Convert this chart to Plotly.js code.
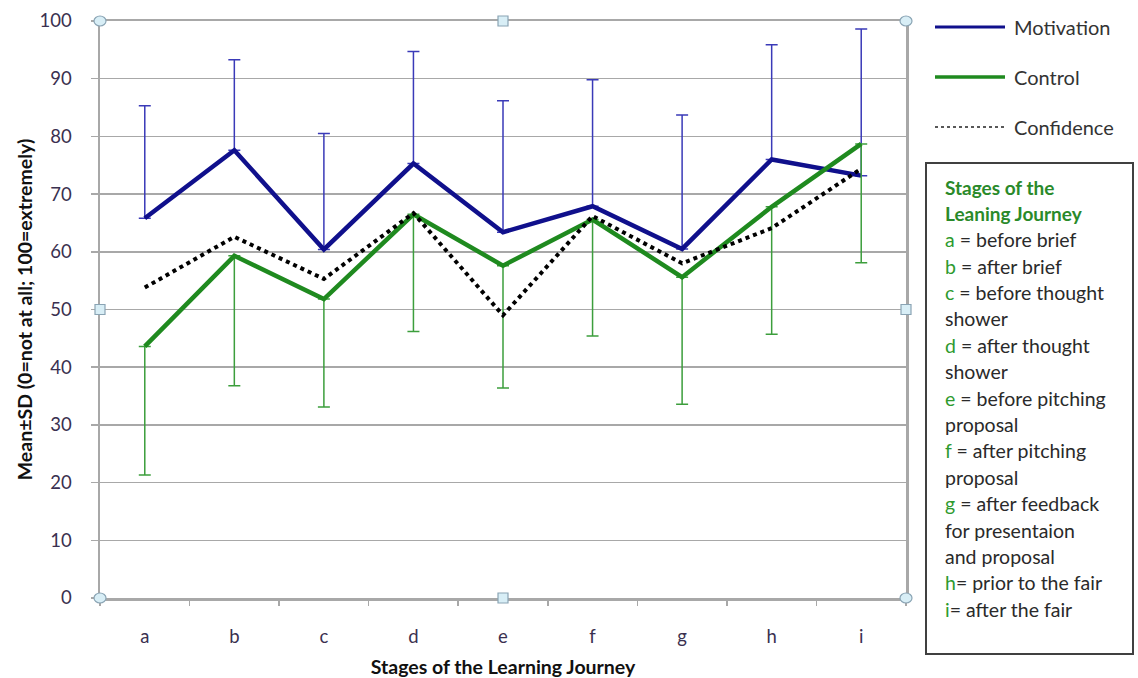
<!DOCTYPE html>
<html>
<head>
<meta charset="utf-8">
<script src="https://cdn.plot.ly/plotly-3.0.1.min.js"></script>
<style>html,body{margin:0;padding:0;background:#fff}#chart{width:1138px;height:678px}</style>
</head>
<body>
<div id="chart"></div>
<script>
// ---- data ----
const stages = ["a","b","c","d","e","f","g","h","i"];
const motivation   = [65.8, 77.6, 60.4, 75.3, 63.4, 67.9, 60.5, 76.0, 73.2];
const motivationSD = [19.5, 15.7, 20.1, 19.4, 22.8, 21.9, 23.2, 19.9, 25.4];
const control      = [43.6, 59.3, 51.8, 66.5, 57.6, 65.6, 55.6, 67.8, 78.7];
const controlSD    = [22.3, 22.5, 18.7, 20.3, 21.2, 20.2, 22.0, 22.1, 20.6];
const confidence   = [53.8, 62.6, 55.3, 66.7, 49.0, 66.2, 58.0, 64.1, 74.4];
const yTicks = [0,10,20,30,40,50,60,70,80,90,100];
const seriesNames = ["Motivation","Control","Confidence"];
const boxTitle = ["Stages of the","Leaning Journey"];
const boxLines = [
  ["a"," = before brief"],
  ["b"," = after brief"],
  ["c"," = before thought"],
  ["","shower"],
  ["d"," = after thought"],
  ["","shower"],
  ["e"," = before pitching"],
  ["","proposal"],
  ["f"," = after pitching"],
  ["","proposal"],
  ["g"," = after feedback"],
  ["","for presentaion"],
  ["","and proposal"],
  ["h","= prior to the fair"],
  ["i","= after the fair"]
];

// ---- layout geometry ----
const W = 1138, H = 678;
const L = 100, R = 906, T = 21, B = 598;
const px = v => (v - L) / (R - L);
const py = v => (B - v) / (B - T);

const navy = "#10108c", green = "#1f8a1f", gridc = "#a8a8a8";
const FONT = "Lato, 'Open Sans', sans-serif";

const traces = [
  {x: stages, y: motivation, name: seriesNames[0], type: "scatter", mode: "lines",
   line: {color: navy, width: 4.5},
   error_y: {type: "data", symmetric: false, array: motivationSD, arrayminus: motivationSD.map(() => 0),
             color: "#3a3ab8", thickness: 1.5, width: 6},
   showlegend: false},
  {x: stages, y: control, name: seriesNames[1], type: "scatter", mode: "lines",
   line: {color: green, width: 4.5},
   error_y: {type: "data", symmetric: false, array: control.map(() => 0), arrayminus: controlSD,
             color: "#3c9e3c", thickness: 1.5, width: 6},
   showlegend: false},
  {x: stages, y: confidence, name: seriesNames[2], type: "scatter", mode: "lines",
   line: {color: "#000", width: 4, dash: "dot"},
   showlegend: false}
];

const shapes = [];
const annotations = [];

// legend (manual)
const legY = [27, 77, 127];
const legStyle = [
  {color: navy, width: 3, dash: "solid"},
  {color: green, width: 3.5, dash: "solid"},
  {color: "#222", width: 1.5, dash: "dot"}
];
seriesNames.forEach((n, i) => {
  shapes.push({type: "line", xref: "paper", yref: "paper",
    x0: px(935), x1: px(1005), y0: py(legY[i]), y1: py(legY[i]), line: legStyle[i]});
  annotations.push({xref: "paper", yref: "paper", x: px(1012), y: py(legY[i]),
    xanchor: "left", yanchor: "middle", showarrow: false, text: n,
    font: {family: FONT, size: 20, color: "#333"}});
});

// text box
shapes.push({type: "rect", xref: "paper", yref: "paper",
  x0: px(926), x1: px(1133), y0: py(163), y1: py(654),
  line: {color: "#404040", width: 2}, fillcolor: "rgba(0,0,0,0)"});
let yy = 187;
const step = 26.4;
boxTitle.forEach(t => {
  annotations.push({xref: "paper", yref: "paper", x: px(943), y: py(yy),
    xanchor: "left", yanchor: "middle", showarrow: false,
    text: "<b>" + t + "</b>", font: {family: FONT, size: 19, color: "#2a8a2a"}});
  yy += step;
});
boxLines.forEach(p => {
  const txt = (p[0] ? '<span style="color:#2e9a2e">' + p[0] + '</span>' : '') + p[1];
  annotations.push({xref: "paper", yref: "paper", x: px(943), y: py(yy),
    xanchor: "left", yanchor: "middle", showarrow: false,
    text: txt, font: {family: FONT, size: 19.5, color: "#2a2a2a"}});
  yy += step;
});

// selection handles around the plot frame
const handles = [
  [L, T, "circle"], [R, T, "circle"], [L, B, "circle"], [R, B, "circle"],
  [(L + R) / 2, T, "rect"], [(L + R) / 2, B, "rect"], [L, (T + B) / 2, "rect"], [R, (T + B) / 2, "rect"]
];
handles.forEach(h => {
  shapes.push({type: h[2], xref: "paper", yref: "paper", xsizemode: "pixel", ysizemode: "pixel",
    xanchor: px(h[0]), yanchor: py(h[1]),
    x0: h[2] === "circle" ? -6 : -5, x1: h[2] === "circle" ? 6 : 5,
    y0: -5, y1: 5,
    line: {color: "#8aa4b4", width: 1.2}, fillcolor: "#d8eef6"});
});

const layout = {
  width: W, height: H,
  margin: {l: L, r: W - R, t: T, b: H - B},
  paper_bgcolor: "#fff", plot_bgcolor: "#fff",
  showlegend: false,
  font: {family: FONT, size: 18, color: "#333"},
  xaxis: {
    type: "category", range: [-0.5, 8.5],
    showline: true, linecolor: gridc, linewidth: 2.5, mirror: true,
    showgrid: false, zeroline: false,
    ticks: "outside", tickson: "boundaries", ticklen: 5, tickcolor: gridc, tickwidth: 1.5,
    ticklabelstandoff: 20,
    tickfont: {family: FONT, size: 18.5, color: "#3a3050"},
    title: {text: "<b>Stages of the Learning Journey</b>", standoff: 15,
            font: {family: FONT, size: 19.5, color: "#111"}}
  },
  yaxis: {
    range: [0, 100], tickvals: yTicks, ticktext: yTicks.map(String),
    showline: true, linecolor: gridc, linewidth: 2.5, mirror: true,
    showgrid: true, gridcolor: gridc, gridwidth: 1.5, zeroline: false,
    ticks: "outside", ticklen: 7, tickcolor: gridc, tickwidth: 1.5,
    ticklabelstandoff: 15,
    tickfont: {family: FONT, size: 18.5, color: "#3a3050"},
    title: {text: "<b>Mean±SD (0=not at all; 100=extremely)</b>", standoff: 2,
            font: {family: FONT, size: 19.5, color: "#111"}}
  },
  shapes: shapes,
  annotations: annotations
};

Plotly.newPlot("chart", traces, layout, {displayModeBar: false, staticPlot: true});
</script>
</body>
</html>
